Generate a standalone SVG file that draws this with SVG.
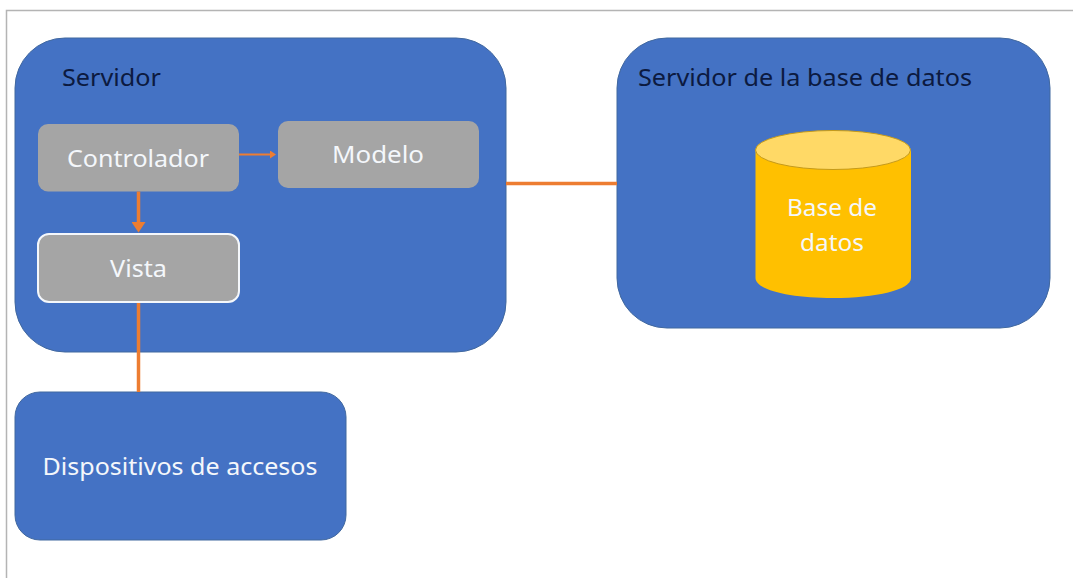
<svg xmlns="http://www.w3.org/2000/svg" width="1073" height="578" viewBox="0 0 1073 578">
<style>
.blue{fill:#4472c4;stroke:#41689f;stroke-width:1}
.gray{fill:#a5a5a5}
.t{font-family:"Noto Sans","Open Sans",sans-serif;font-size:23px;fill:#f4f7fb;text-anchor:middle}
.d{font-family:"Noto Sans","Open Sans",sans-serif;font-size:23px;fill:#0c1a40}
.c{fill:none;stroke:#ed7d31}
</style>
<defs>
<marker id="a" markerWidth="3" markerHeight="4" refX="2" refY="2" orient="auto"><path d="M0 0L3 2L0 4Z" fill="#ed7d31"/></marker>
</defs>
<rect id="frame" x="6.500" y="10.500" width="1080" height="580" fill="#fff" stroke="#b4b4b4" stroke-width="1.500"/>
<g id="servidor">
<rect class="blue" x="15" y="38" width="491" height="314" rx="50"/>
<text class="d" x="62" y="86" textLength="99" lengthAdjust="spacingAndGlyphs">Servidor</text>
</g>
<g id="servidor-bd">
<rect class="blue" x="617" y="38" width="433" height="290" rx="50"/>
<text class="d" x="638" y="86" textLength="334" lengthAdjust="spacingAndGlyphs">Servidor de la base de datos</text>
</g>
<g id="dispositivos">
<rect class="blue" x="15" y="392" width="331" height="148" rx="25"/>
<text class="t" x="180" y="475" textLength="275" lengthAdjust="spacingAndGlyphs">Dispositivos de accesos</text>
</g>
<g id="controlador">
<rect class="gray" x="38" y="124" width="201" height="67.500" rx="10"/>
<text class="t" x="138" y="167" textLength="142" lengthAdjust="spacingAndGlyphs">Controlador</text>
</g>
<g id="modelo">
<rect class="gray" x="278" y="121" width="201" height="67" rx="10"/>
<text class="t" x="378" y="163" textLength="92" lengthAdjust="spacingAndGlyphs">Modelo</text>
</g>
<g id="vista">
<rect class="gray" x="38" y="234" width="201" height="68" rx="11" stroke="#f4f7fb" stroke-width="2"/>
<text class="t" x="138.500" y="277" textLength="57" lengthAdjust="spacingAndGlyphs">Vista</text>
</g>
<g id="base-datos">
<path d="M755.500 150V278C755.500 290 790 298 833 298S911 290 911 278V150Z" fill="#ffc000"/>
<ellipse cx="833" cy="150" rx="77.500" ry="19.500" fill="#ffd966" stroke="#c59a1a" stroke-width="1"/>
<text class="t" x="832" y="216" textLength="90" lengthAdjust="spacingAndGlyphs">Base de</text>
<text class="t" x="832" y="251" textLength="64" lengthAdjust="spacingAndGlyphs">datos</text>
</g>
<g id="connectors">
<path class="c" stroke-width="2" marker-end="url(#a)" d="M239 154.500H274"/>
<path class="c" stroke-width="3.500" marker-end="url(#a)" d="M138.500 191.500V229"/>
<path class="c" stroke-width="3.500" d="M506 183.500H617"/>
<path class="c" stroke-width="3.500" d="M138.500 303V392"/>
</g>
</svg>
